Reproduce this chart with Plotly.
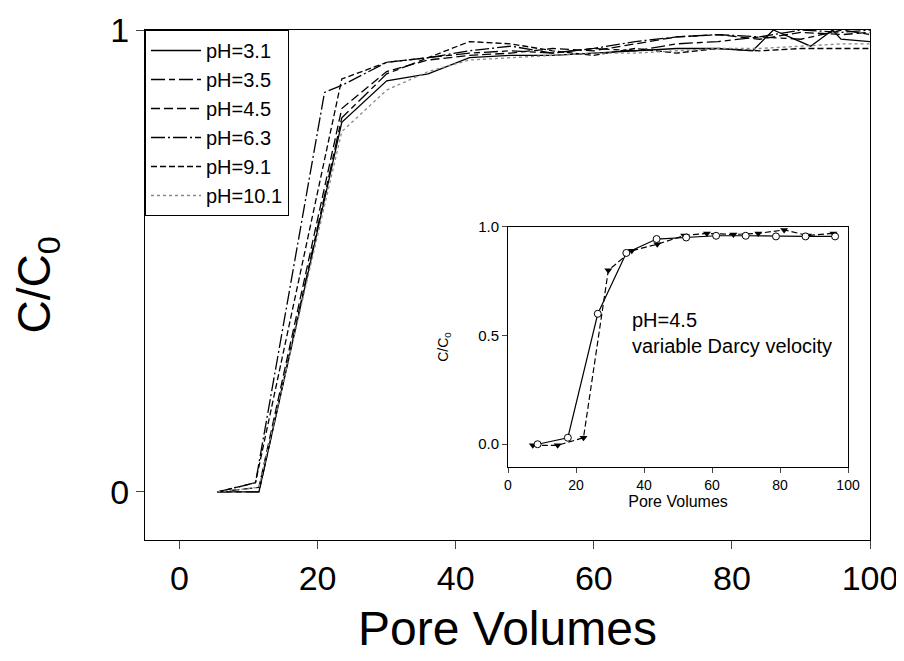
import plotly.graph_objects as go

# main breakthrough curves, one per pH
pv_31 = [5.5, 11.5, 23.5, 30, 36, 42, 48, 54, 60, 66, 72, 78, 83, 86, 91.4, 94.6, 95.8, 100]
c_31 = [0, 0, 0.80, 0.89, 0.905, 0.94, 0.945, 0.945, 0.95, 0.955, 0.96, 0.96, 0.955, 1.0, 0.965, 1.0, 0.98, 0.975]

pv_35 = [5.5, 11.5, 23.5, 30, 36, 42, 48, 54, 60, 66, 72, 78, 84, 90, 96, 100]
c_35 = [0, 0, 0.81, 0.905, 0.94, 0.95, 0.955, 0.95, 0.96, 0.955, 0.97, 0.975, 0.985, 0.98, 1.0, 0.99]

pv_45 = [5.5, 11.5, 23.5, 30, 36, 42, 48, 54, 60, 66, 72, 78, 84, 90, 96, 100]
c_45 = [0, 0.01, 0.83, 0.91, 0.935, 0.945, 0.95, 0.96, 0.955, 0.97, 0.985, 0.99, 0.98, 0.995, 0.99, 0.995]

pv_63 = [5.5, 11, 21, 23.5, 30, 36, 42, 48, 54, 60, 66, 72, 78, 84, 90, 96, 100]
c_63 = [0, 0.02, 0.865, 0.88, 0.93, 0.94, 0.955, 0.965, 0.95, 0.96, 0.975, 0.985, 0.99, 0.985, 1.0, 0.995, 1.0]

pv_91 = [5.5, 11, 23.5, 30, 36, 42, 48, 54, 60, 66, 72, 78, 84, 90, 96, 100]
c_91 = [0, 0.02, 0.894, 0.93, 0.94, 0.975, 0.97, 0.955, 0.945, 0.96, 0.95, 0.96, 0.955, 0.96, 0.96, 0.96]

pv_101 = [5.5, 11.5, 23.5, 30, 36, 42, 48, 54, 60, 66, 72, 78, 84, 90, 96, 100]
c_101 = [0, 0.01, 0.78, 0.87, 0.91, 0.935, 0.94, 0.945, 0.95, 0.95, 0.955, 0.96, 0.96, 0.965, 0.97, 0.97]

# inset: pH 4.5 with variable Darcy velocity
ins_pv_circ = [8.7, 17.6, 26.4, 34.8, 43.7, 52.4, 61.2, 69.9, 78.8, 87.5, 96.2]
ins_c_circ = [0.0, 0.03, 0.60, 0.88, 0.944, 0.951, 0.959, 0.959, 0.956, 0.956, 0.956]
ins_pv_tri = [7.3, 14.6, 22.2, 29.5, 36.4, 43.9, 51.8, 58.5, 66.3, 73.6, 81.2, 88.2, 95.7]
ins_c_tri = [-0.005, -0.005, 0.03, 0.80, 0.89, 0.92, 0.96, 0.97, 0.965, 0.97, 0.986, 0.96, 0.97]

series = [
    ("pH=3.1", pv_31, c_31, "solid", "black"),
    ("pH=3.5", pv_35, c_35, "14px,4px,6px,4px", "black"),
    ("pH=4.5", pv_45, c_45, "9px,4px", "black"),
    ("pH=6.3", pv_63, c_63, "14px,3px,2px,3px", "black"),
    ("pH=9.1", pv_91, c_91, "6px,3px", "black"),
    ("pH=10.1", pv_101, c_101, "dot", "#888888"),
]

fig = go.Figure()
for name, x, y, dash, col in series:
    fig.add_trace(go.Scatter(x=x, y=y, mode="lines", name=name,
                             line=dict(color=col, width=1.3, dash=dash)))

fig.add_trace(go.Scatter(x=ins_pv_tri, y=ins_c_tri, mode="lines+markers", showlegend=False,
                         xaxis="x2", yaxis="y2",
                         line=dict(color="black", width=1.2, dash="6px,3px"),
                         marker=dict(symbol="triangle-down", size=7, color="black")))
fig.add_trace(go.Scatter(x=ins_pv_circ, y=ins_c_circ, mode="lines+markers", showlegend=False,
                         xaxis="x2", yaxis="y2",
                         line=dict(color="black", width=1.2),
                         marker=dict(symbol="circle", size=7, color="white",
                                     line=dict(color="black", width=1))))

fig.add_annotation(x=36, y=0.51, xref="x2", yref="y2", xanchor="left", align="left",
                   text="pH=4.5<br>variable Darcy velocity", showarrow=False,
                   font=dict(size=20, color="black"))

# page body has an 8px margin, so the figure is a little smaller than the window
fig.update_layout(
    width=896, height=653,
    margin=dict(l=137, r=34, t=22, b=121),
    plot_bgcolor="white", paper_bgcolor="white",
    font=dict(family="Liberation Sans, Arial", color="black"),
    legend=dict(x=0, y=1, xanchor="left", yanchor="top", bordercolor="black", borderwidth=1,
                bgcolor="white", font=dict(size=20), tracegroupgap=0, itemwidth=50),
    xaxis=dict(range=[-5, 100], tickvals=[0, 20, 40, 60, 80, 100], ticks="outside", ticklen=8,
               showline=True, linecolor="black", mirror=True, showgrid=False, zeroline=False,
               automargin=False, ticklabelstandoff=0, ticklabeloverflow="allow",
               tickfont=dict(size=34),
               title=dict(text="Pore Volumes", font=dict(size=48), standoff=15)),
    yaxis=dict(range=[-0.104, 1.0], tickvals=[0, 1], ticks="outside", ticklen=8,
               showline=True, linecolor="black", mirror=True, showgrid=False, zeroline=False,
               automargin=False,
               tickfont=dict(size=34),
               title=dict(text="C/C<sub>0</sub>", font=dict(size=46), standoff=68)),
    xaxis2=dict(domain=[0.5007, 0.9697], anchor="y2", range=[0, 100],
                tickvals=[0, 20, 40, 60, 80, 100], ticks="outside", ticklen=5,
                showline=True, linecolor="black", mirror=True, showgrid=False, zeroline=False,
                automargin=False,
                tickfont=dict(size=14), title=dict(text="Pore Volumes", font=dict(size=16), standoff=2)),
    yaxis2=dict(domain=[0.143, 0.614], anchor="x2", range=[-0.105, 1.0],
                tickvals=[0, 0.5, 1.0], tickformat=".1f", ticks="outside", ticklen=5,
                showline=True, linecolor="black", mirror=True, showgrid=False, zeroline=False,
                automargin=False,
                tickfont=dict(size=15), title=dict(text="C/C<sub>0</sub>", font=dict(size=14), standoff=26)),
)

fig.write_html("out.html")
